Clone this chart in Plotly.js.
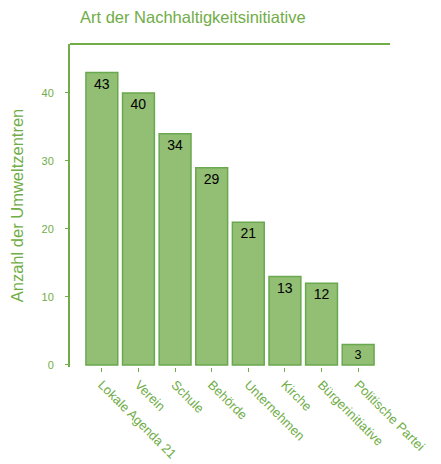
<!DOCTYPE html>
<html><head><meta charset="utf-8">
<script src="https://cdn.plot.ly/plotly-3.0.1.min.js"></script>
<style>html,body{margin:0;padding:0;background:#fff}#chart{width:441px;height:464px}</style>
</head><body><div id="chart"></div>
<script>
const categories = ["Lokale Agenda 21","Verein","Schule","Behörde","Unternehmen","Kirche","Bürgerinitiative","Politische Partei"];
const counts = [43, 40, 34, 29, 21, 13, 12, 3];
const green = "#70ad47";
const trace = {
  type: "bar", x: categories, y: counts,
  text: counts.map(String), textposition: "inside", insidetextanchor: "end",
  textangle: 0,
  textfont: {family: "Liberation Sans, Arial", size: 14, color: "#000"},
  marker: {color: "#93bf74", line: {color: "#6aa84f", width: 1.5}},
  hoverinfo: "none"
};
const layout = {
  width: 441, height: 464,
  margin: {l: 70, r: 51, t: 44, b: 97},
  paper_bgcolor: "#fff", plot_bgcolor: "#fff",
  font: {family: "Liberation Sans, Arial", color: green},
  bargap: 0.13,
  showlegend: false,
  title: {text: "Art der Nachhaltigkeitsinitiative", x: 80/441, xanchor: "left", xref: "container", y: 0.962, yanchor: "middle",
    font: {size: 16.5, color: green}},
  xaxis: {type: "category", range: [-0.87, 7.87], tickangle: 45, ticks: "outside", ticklen: 4, tickcolor: green,
    automargin: false,
    showline: false, showgrid: false, zeroline: false, tickfont: {size: 13, color: green}},
  yaxis: {range: [-0.3, 47.2], tickvals: [0,10,20,30,40], ticks: "outside", ticklen: 3, tickcolor: green,
    automargin: false, ticklabelstandoff: 9,
    showline: true, linecolor: green, linewidth: 2, showgrid: false, zeroline: false,
    tickfont: {size: 11, color: green},
    title: {text: "Anzahl der Umweltzentren", font: {size: 16.5, color: green}, standoff: 14}},
  shapes: [{type: "line", xref: "paper", yref: "paper", x0: 0, x1: 1, y0: 1, y1: 1, line: {color: green, width: 2}}]
};
Plotly.newPlot("chart", [trace], layout, {displayModeBar: false, staticPlot: true});
</script></body></html>
